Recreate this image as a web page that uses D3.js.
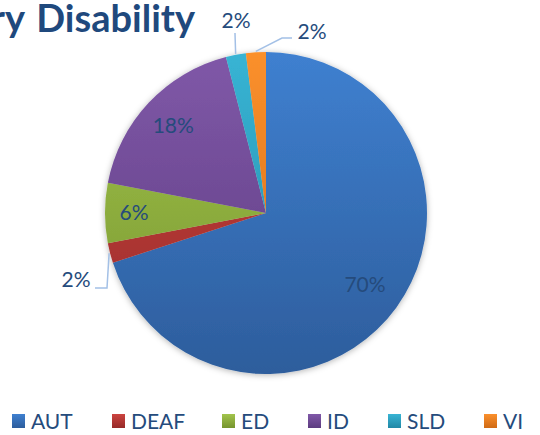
<!DOCTYPE html>
<html>
<head>
<meta charset="utf-8">
<script src="https://cdn.jsdelivr.net/npm/d3@7"></script>
<style>
  body { margin: 0; background: #fff; }
  svg { display: block; }
</style>
</head>
<body>
<div id="chart"></div>
<script>
const categories = ["AUT", "DEAF", "ED", "ID", "SLD", "VI"];
const values = [70, 2, 6, 18, 2, 2];
const colorsTop = ["#3f80d0", "#cc4440", "#a2c44c", "#8058a8", "#38b4d4", "#fb902c"];
const colorsBottom = ["#2d5d9c", "#962a28", "#76942e", "#5c3c80", "#2188a6", "#d06a14"];

const width = 540, height = 435;
const cx = 266, cy = 213, r = 161;
const textColor = "#254b7c";
const font = "Lato, 'Open Sans', sans-serif";

const svg = d3.select("#chart").append("svg")
    .attr("width", width)
    .attr("height", height);

const defs = svg.append("defs");
categories.forEach(function (c, i) {
    const g = defs.append("linearGradient")
        .attr("id", "grad" + i)
        .attr("gradientUnits", "userSpaceOnUse")
        .attr("x1", 0).attr("y1", -r).attr("x2", 0).attr("y2", r);
    g.append("stop").attr("offset", "0%").attr("stop-color", colorsTop[i]);
    g.append("stop").attr("offset", "100%").attr("stop-color", colorsBottom[i]);
});
const filter = defs.append("filter").attr("id", "shadow")
    .attr("x", "-10%").attr("y", "-10%").attr("width", "120%").attr("height", "120%");
filter.append("feDropShadow")
    .attr("dx", 0).attr("dy", 1).attr("stdDeviation", 3)
    .attr("flood-color", "#000").attr("flood-opacity", 0.3);

// title, cut off at the left like the original
svg.append("text")
    .attr("x", 195).attr("y", 32)
    .attr("text-anchor", "end")
    .attr("font-family", font)
    .attr("font-weight", "bold")
    .attr("font-size", 38)
    .attr("word-spacing", 3)
    .attr("fill", "#1f497d")
    .text("Students by Primary Disability");

const pie = d3.pie().sort(null).value(function (d) { return d; });
const arcs = pie(values);
const arc = d3.arc().innerRadius(0).outerRadius(r);

const g = svg.append("g").attr("transform", "translate(" + cx + "," + cy + ")");

g.append("g").attr("filter", "url(#shadow)")
    .selectAll("path")
    .data(arcs)
    .enter().append("path")
    .attr("d", arc)
    .attr("fill", function (d, i) { return "url(#grad" + i + ")"; });

// inside labels
const insideR = { 0: 0.76, 2: 0.82, 3: 0.79 };
Object.keys(insideR).forEach(function (k) {
    const i = +k;
    const a = d3.arc().innerRadius(r * insideR[i]).outerRadius(r * insideR[i]);
    const p = a.centroid(arcs[i]);
    g.append("text")
        .attr("x", p[0]).attr("y", p[1])
        .attr("text-anchor", "middle")
        .attr("dy", "0.35em")
        .attr("font-family", font)
        .attr("font-size", 21)
        .attr("fill", textColor)
        .text(values[i] + "%");
});

// outside labels with leader lines
const outside = [
    { i: 1, label: [-190, 67], pts: function (e) { return [[-171, 75], [-159, 75], [e[0], e[1]]]; } },
    { i: 4, label: [-30, -192], pts: function (e) { return [[-31, -180], [e[0], e[1]]]; } },
    { i: 5, label: [46, -181], pts: function (e) { return [[26, -175], [16, -175], [e[0], e[1]]]; } }
];
const edgeArc = d3.arc().innerRadius(r + 1).outerRadius(r + 1);
outside.forEach(function (o) {
    const e = edgeArc.centroid(arcs[o.i]);
    g.append("polyline")
        .attr("points", o.pts(e).map(function (p) { return p.join(","); }).join(" "))
        .attr("fill", "none")
        .attr("stroke", "#a3c0e6")
        .attr("stroke-width", 1.5);
    g.append("text")
        .attr("x", o.label[0]).attr("y", o.label[1])
        .attr("text-anchor", "middle")
        .attr("dy", "0.35em")
        .attr("font-family", font)
        .attr("font-size", 21)
        .attr("fill", textColor)
        .text(values[o.i] + "%");
});

// legend
const legendX = [12, 112, 222, 308, 388, 484];
const legend = svg.append("g");
categories.forEach(function (c, i) {
    const lgr = defs.append("linearGradient")
        .attr("id", "lgrad" + i)
        .attr("x1", 0).attr("y1", 0).attr("x2", 0).attr("y2", 1);
    lgr.append("stop").attr("offset", "0%").attr("stop-color", colorsTop[i]);
    lgr.append("stop").attr("offset", "100%").attr("stop-color", colorsBottom[i]);

    const lg = legend.append("g").attr("transform", "translate(" + legendX[i] + ",414)");
    lg.append("rect")
        .attr("width", 13).attr("height", 14)
        .attr("fill", "url(#lgrad" + i + ")");
    lg.append("text")
        .attr("x", 19).attr("y", 7)
        .attr("dy", "0.36em")
        .attr("font-family", font)
        .attr("font-size", 21)
        .attr("fill", textColor)
        .text(c);
});
</script>
</body>
</html>
